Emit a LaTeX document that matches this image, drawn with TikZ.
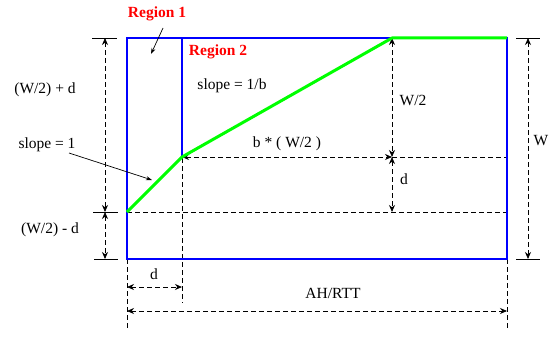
\documentclass[tikz,border=0pt]{standalone}
\usepackage{fontspec}
\setmainfont{Liberation Serif}
\usetikzlibrary{arrows.meta}
\begin{document}
\begin{tikzpicture}[x=1pt,y=-1pt,
  dim/.style={draw=black,dashed,dash pattern=on 4.5pt off 3.5pt,line width=0.8pt},
  dimarr/.style={dim,{Stealth[length=7pt,width=6pt]}-{Stealth[length=7pt,width=6pt]}},
  tick/.style={draw=black,line width=0.8pt},
  blueline/.style={draw=blue,line width=1.1pt},
  greenline/.style={draw=green,line width=3pt,line join=round},
  lbl/.style={inner sep=0pt,font=\fontsize{15.5}{18}\selectfont},
  reg/.style={inner sep=0pt,text=red,font=\fontsize{15.5}{18}\selectfont\bfseries}]
\useasboundingbox (0,0) rectangle (556,337);
% key points
\coordinate (TL) at (127,38);
\coordinate (TR) at (507,38);
\coordinate (BL) at (127,259);
\coordinate (BR) at (507,259);
\coordinate (R2T) at (182,38);
\coordinate (K) at (182,157);
\coordinate (G0) at (127,212);
\coordinate (T) at (392,38);
\coordinate (M) at (392,157);
\coordinate (N) at (392,212);
\coordinate (E1) at (507,157);
\coordinate (E2) at (507,212);
\coordinate (KB) at (182,303);
\coordinate (LB) at (127,330);
\coordinate (RB) at (507,328);
\coordinate (D1) at (127,287);
\coordinate (D2) at (182,287);
\coordinate (A1) at (127,311);
\coordinate (A2) at (507,311);
\coordinate (L1) at (105,38);
\coordinate (L2) at (105,212);
\coordinate (L3) at (105,259);
\coordinate (W1) at (528,38);
\coordinate (W2) at (528,259);
% dashed guide lines
\draw[dim] (R2T) -- (KB);
\draw[dim] (BL) -- (LB);
\draw[dim] (BR) -- (RB);
\draw[dim] (G0) -- (E2);
\draw[dim] (M) -- (E1);
% blue box
\draw[blueline] (TL) rectangle (BR);
\draw[blueline] (R2T) -- (K);
% dimension arrows
\draw[dimarr] (K) -- (M);
\draw[dimarr] (T) -- (M);
\draw[dimarr] (M) -- (N);
\draw[dimarr] (D1) -- (D2);
\draw[dimarr] (A1) -- (A2);
\draw[dimarr] (L1) -- (L2);
\draw[dimarr] (L2) -- (L3);
\draw[dimarr] (W1) -- (W2);
% ticks
\draw[tick] (92,38) -- (117,38);
\draw[tick] (93,212) -- (118,212);
\draw[tick] (94,259) -- (118,259);
\draw[tick] (516,38) -- (540,38);
\draw[tick] (516,259) -- (540,259);
% green curve
\draw[greenline] (G0) -- (K) -- (T) -- (TR);
% labels
\node[reg] (r1) at (157,14) {Region 1};
\node[reg] (r2) at (218,52) {Region 2};
\node[lbl] (s1b) at (232,86) {slope = 1/b};
\node[lbl] (s1) at (47,145) {slope = 1};
\node[lbl] (wpd) at (45,90) {(W/2) + d};
\node[lbl] (wmd) at (50,230) {(W/2) - d};
\node[lbl] (w2) at (413,100) {W/2};
\node[lbl] (bw) at (287,144) {b * ( W/2 )};
\node[lbl] (dr) at (404,179) {d};
\node[lbl] (db) at (154,274) {d};
\node[lbl] (ah) at (333,293) {AH/RTT};
\node[lbl] (w) at (541,141) {W};
% pointer arrows
\coordinate (p1s) at (163,28);
\coordinate (p1e) at (151,54);
\coordinate (p2s) at (69,153);
\coordinate (p2e) at (152,180);
\draw[line width=0.7pt,-{Stealth[length=6pt,width=4pt]}] (p1s) -- (p1e);
\draw[line width=0.7pt,-{Stealth[length=6pt,width=4pt]}] (p2s) -- (p2e);
\end{tikzpicture}
\end{document}
